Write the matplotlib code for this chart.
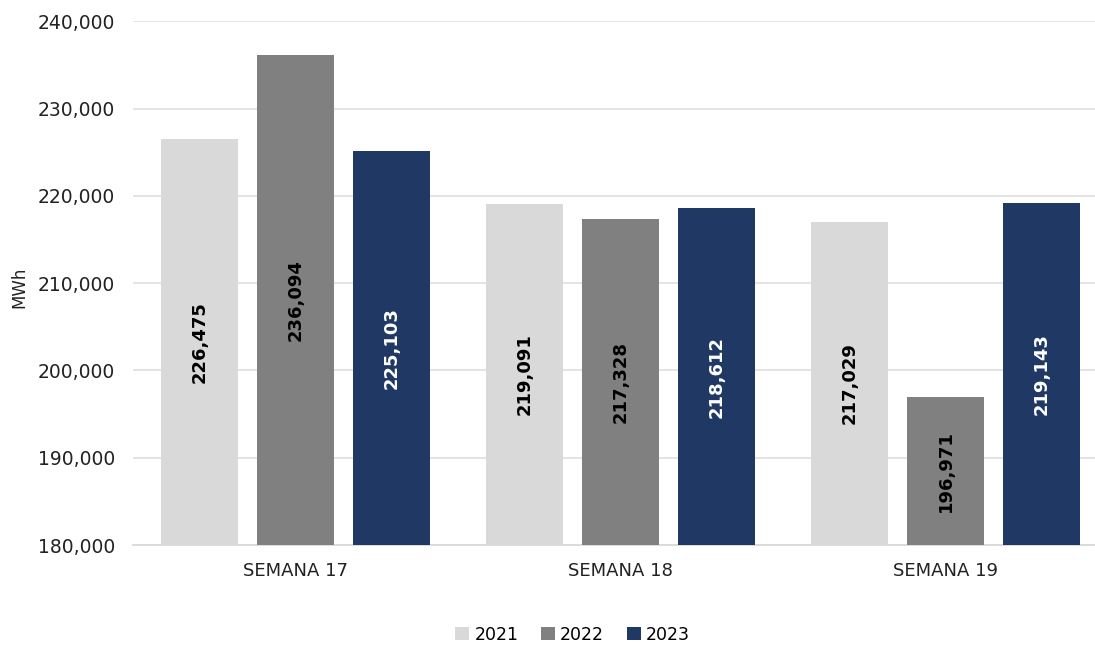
import matplotlib.pyplot as plt
import numpy as np

# weekly energy, MWh
weeks = ['SEMANA 17', 'SEMANA 18', 'SEMANA 19']
years = ['2021', '2022', '2023']
v2021 = [226475, 219091, 217029]
v2022 = [236094, 217328, 196971]
v2023 = [225103, 218612, 219143]

colors = ['#D9D9D9', '#808080', '#203864']
label_colors = ['black', 'black', 'white']
base = 180000

fig = plt.figure(figsize=(10.95, 6.45), dpi=100, facecolor='w')
ax = fig.add_axes([0.1215, 0.155, 0.8785, 0.812])

x = np.arange(len(weeks))
width = 0.237
pitch = 0.295

for i, (vals, yr) in enumerate(zip([v2021, v2022, v2023], years)):
    xs = x + (i - 1) * pitch
    heights = [v - base for v in vals]
    ax.bar(xs, heights, width, bottom=base, color=colors[i], label=yr, zorder=3)
    for xx, v in zip(xs, vals):
        ax.text(xx, (base + v) / 2, f'{v:,}', rotation=90, ha='center', va='center',
                fontsize=13, fontweight='bold', color=label_colors[i], zorder=4)

ax.set_ylim(180000, 240000)
ax.set_xlim(-0.5, 2.46)
ax.set_yticks(np.arange(180000, 240001, 10000))
ax.yaxis.set_major_formatter(plt.FuncFormatter(lambda v, p: f'{int(v):,}'))
ax.set_xticks(x)
ax.set_xticklabels(weeks)
ax.tick_params(axis='y', length=0, labelsize=13.5, colors='#222222', pad=13)
ax.tick_params(axis='x', length=0, labelsize=13, colors='#222222', pad=12)
ax.grid(axis='y', color='#DDDDDD', linewidth=1.1, zorder=0)

for s in ['top', 'right', 'left']:
    ax.spines[s].set_visible(False)
ax.spines['bottom'].set_color('#D9D9D9')
ax.spines['bottom'].set_linewidth(1.3)

fig.text(0.018, 0.555, 'MWh', rotation=90, ha='center', va='center', fontsize=12, color='#222222')

fig.legend(loc='center', bbox_to_anchor=(0.523, 0.016), ncol=3, frameon=False,
           fontsize=12.5, handlelength=0.8, handleheight=0.8, handletextpad=0.3,
           columnspacing=1.3, borderaxespad=0)

plt.savefig('out.png', dpi=100)
